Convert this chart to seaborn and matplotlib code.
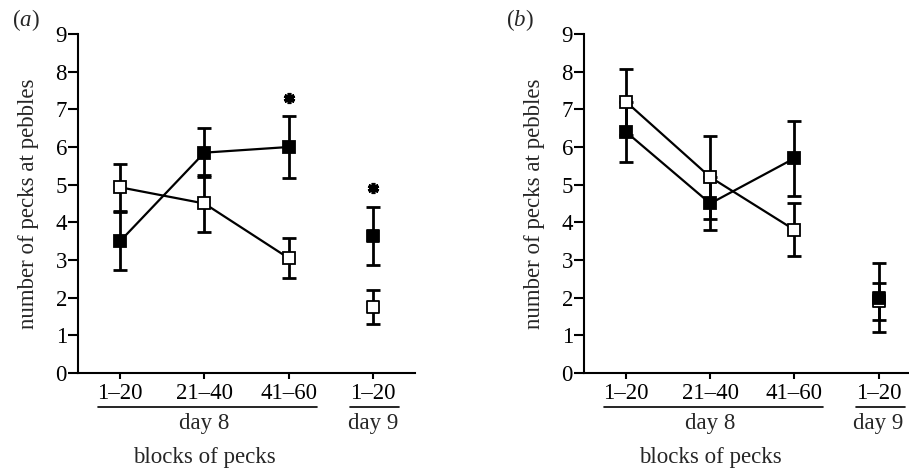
import numpy as np
import pandas as pd
import matplotlib
matplotlib.use('Agg')
import matplotlib.pyplot as plt
import matplotlib.transforms as mtransforms
import seaborn as sns

# block labels and positions
blocks = ['1–20', '21–40', '41–60', '1–20']
xpos = [0, 1, 2, 3]

# panel (a)
a_filled = [3.5, 5.85, 6.0, 3.65]
a_filled_err = [0.77, 0.65, 0.82, 0.77]
a_open = [4.93, 4.5, 3.05, 1.75]
a_open_err = [0.62, 0.75, 0.53, 0.45]
a_stars = [None, None, 7.3, 4.9]

# panel (b)
b_filled = [6.4, 4.5, 5.7, 2.0]
b_filled_err = [0.8, 0.7, 1.0, 0.92]
b_open = [7.2, 5.2, 3.8, 1.9]
b_open_err = [0.88, 1.1, 0.7, 0.5]
b_stars = [None, None, None, None]

FS = 16.5

sns.set_style('ticks')
plt.rcParams['font.family'] = ['Liberation Serif', 'DejaVu Serif']
plt.rcParams['mathtext.fontset'] = 'custom'
plt.rcParams['mathtext.rm'] = 'Liberation Serif'
plt.rcParams['mathtext.it'] = 'Liberation Serif:italic'

W, H = 909, 469
fig = plt.figure(figsize=(W / 100, H / 100), dpi=100)
ax_a = fig.add_axes([78 / W, 96 / H, 337 / W, 339 / H])
ax_b = fig.add_axes([584 / W, 96 / H, 324 / W, 339 / H])


def draw_panel(ax, filled, filled_err, opn, opn_err, stars, xmax):
    df_f = pd.DataFrame({'x': xpos[:3], 'y': filled[:3]})
    df_o = pd.DataFrame({'x': xpos[:3], 'y': opn[:3]})
    # error bars first
    ax.errorbar(xpos, filled, yerr=filled_err, fmt='none', ecolor='black',
                elinewidth=2, capsize=5, capthick=2, zorder=2)
    ax.errorbar(xpos, opn, yerr=opn_err, fmt='none', ecolor='black',
                elinewidth=2, capsize=5, capthick=2, zorder=2)
    sns.lineplot(data=df_f, x='x', y='y', ax=ax, color='black', lw=1.6,
                 marker='s', markersize=9, markerfacecolor='black',
                 markeredgecolor='black', markeredgewidth=1.3, zorder=3)
    sns.lineplot(data=df_o, x='x', y='y', ax=ax, color='black', lw=1.6,
                 marker='s', markersize=9, markerfacecolor='white',
                 markeredgecolor='black', markeredgewidth=1.3, zorder=3)
    sns.scatterplot(x=[xpos[3]], y=[opn[3]], ax=ax, marker='s', s=81,
                    color='white', edgecolor='black', linewidth=1.3, zorder=4)
    sns.scatterplot(x=[xpos[3]], y=[filled[3]], ax=ax, marker='s', s=81,
                    color='black', edgecolor='black', linewidth=1.3, zorder=4)
    sx = [x for x, s in zip(xpos, stars) if s is not None]
    sy = [s for s in stars if s is not None]
    if sx:
        ax.plot(sx, sy, ls='none', marker=(6, 2, 0), markersize=8,
                markeredgewidth=2.6, color='black', clip_on=False)

    ax.set_xlim(-0.5, xmax)
    ax.set_ylim(0, 9)
    ax.set_yticks(range(10))
    ax.set_xticks(xpos)
    ax.set_xticklabels(blocks)
    ax.tick_params(axis='both', labelsize=FS, direction='out',
                   width=1.5, colors='black')
    ax.tick_params(axis='y', length=7, pad=1)
    ax.tick_params(axis='x', length=4, pad=3)
    for sp in ['top', 'right']:
        ax.spines[sp].set_visible(False)
    for sp in ['left', 'bottom']:
        ax.spines[sp].set_linewidth(1.5)
        ax.spines[sp].set_color('black')
    ax.set_xlabel('')
    ax.set_ylabel('number of pecks at pebbles', fontsize=FS, labelpad=12)

    trans = mtransforms.blended_transform_factory(ax.transData, ax.transAxes)
    ax.plot([-0.26, 2.34], [-0.1, -0.1], color='black', lw=1.2,
            transform=trans, clip_on=False)
    ax.plot([2.73, 3.31], [-0.1, -0.1], color='black', lw=1.2,
            transform=trans, clip_on=False)
    ax.text(1.0, -0.15, 'day 8', transform=trans, ha='center', va='center',
            fontsize=FS)
    ax.text(3.0, -0.15, 'day 9', transform=trans, ha='center', va='center',
            fontsize=FS)
    ax.text(1.0, -0.25, 'blocks of pecks', transform=trans, ha='center',
            va='center', fontsize=FS)


draw_panel(ax_a, a_filled, a_filled_err, a_open, a_open_err, a_stars, 3.5)
draw_panel(ax_b, b_filled, b_filled_err, b_open, b_open_err, b_stars, 3.35)

fig.text(26 / W, 1 - 20 / H, r'($\mathit{a}$)', ha='center', va='center', fontsize=FS)
fig.text(520 / W, 1 - 20 / H, r'($\mathit{b}$)', ha='center', va='center', fontsize=FS)

fig.savefig('out.png', dpi=100)
